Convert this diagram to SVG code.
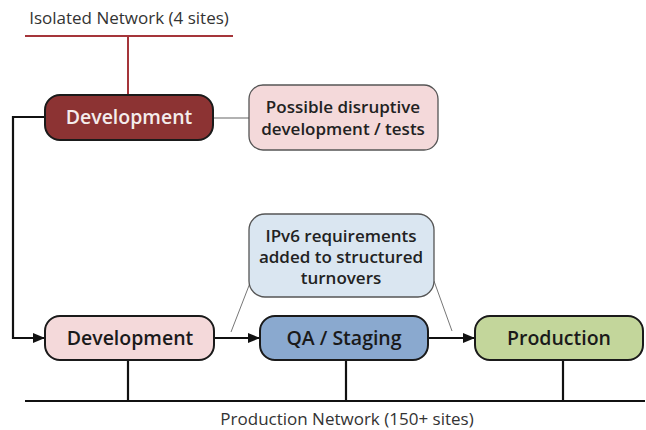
<svg xmlns="http://www.w3.org/2000/svg" width="646" height="430" viewBox="0 0 646 430">
<defs>
<style>
text{font-family:"Open Sans","Liberation Sans",sans-serif;text-anchor:middle}
.box{stroke:#1a1a1a;stroke-width:2}
.lbl{font-size:19.5px;font-weight:600;fill:#1a1a1a}
.note{font-size:17px;font-weight:600;fill:#222}
.net{font-size:17px;fill:#333}
.conn{stroke:#111;stroke-width:2.2;fill:none}
.thin{stroke:#777;stroke-width:1;fill:none}
</style>
<marker id="arr" viewBox="0 0 12 10" refX="12" refY="5" markerWidth="12" markerHeight="10" markerUnits="userSpaceOnUse" orient="auto">
<path d="M0,0 L12,5 L0,10 z" fill="#111"/>
</marker>
</defs>
<rect width="646" height="430" fill="#fff"/>
<g id="isolated-network">
<text class="net" x="129" y="24">Isolated Network (4 sites)</text>
<line x1="25" y1="36" x2="233" y2="36" stroke="#a5353a" stroke-width="2"/>
<line x1="128" y1="36" x2="128" y2="95" stroke="#a5353a" stroke-width="2"/>
</g>
<g id="production-network">
<line x1="25" y1="401" x2="645" y2="401" stroke="#111" stroke-width="2.2"/>
<text class="net" x="347" y="425">Production Network (150+ sites)</text>
</g>
<g id="connectors">
<line x1="213" y1="118" x2="249" y2="118" stroke="#999" stroke-width="1.5"/>
<polyline class="conn" points="45,117 13,117 13,338 45,338" marker-end="url(#arr)"/>
<line class="conn" x1="214" y1="338" x2="260" y2="338" marker-end="url(#arr)"/>
<line class="conn" x1="428" y1="338" x2="475" y2="338" marker-end="url(#arr)"/>
<line class="conn" x1="128" y1="360" x2="128" y2="401"/>
<line class="conn" x1="346" y1="360" x2="346" y2="401"/>
<line class="conn" x1="563" y1="360" x2="563" y2="401"/>
<line class="thin" x1="250" y1="283" x2="231" y2="332"/>
<line class="thin" x1="434" y1="281" x2="452" y2="331"/>
</g>
<g id="dev-isolated">
<rect class="box" x="45" y="95" width="168" height="45" rx="15" fill="#8c3333"/>
<text class="lbl" x="129" y="124" style="fill:#f4ecec">Development</text>
</g>
<g id="note-disruptive">
<rect x="249" y="85" width="189" height="65" rx="14" fill="#f4d9da" stroke="#555" stroke-width="1.3"/>
<text class="note" x="343" y="113">Possible disruptive</text>
<text class="note" x="343" y="135">development / tests</text>
</g>
<g id="note-ipv6">
<rect x="249" y="214" width="185" height="83" rx="16" fill="#dae6f1" stroke="#555" stroke-width="1.3"/>
<text class="note" x="341" y="242">IPv6 requirements</text>
<text class="note" x="341" y="263">added to structured</text>
<text class="note" x="341" y="284">turnovers</text>
</g>
<g id="dev-production">
<rect class="box" x="45" y="316" width="169" height="44" rx="15" fill="#f4d9da"/>
<text class="lbl" x="130" y="345">Development</text>
</g>
<g id="qa-staging">
<rect class="box" x="260" y="316" width="168" height="44" rx="15" fill="#8aa9cf"/>
<text class="lbl" x="344" y="345">QA / Staging</text>
</g>
<g id="production">
<rect class="box" x="475" y="316" width="168" height="44" rx="15" fill="#c3d69b"/>
<text class="lbl" x="559" y="345">Production</text>
</g>
</svg>
